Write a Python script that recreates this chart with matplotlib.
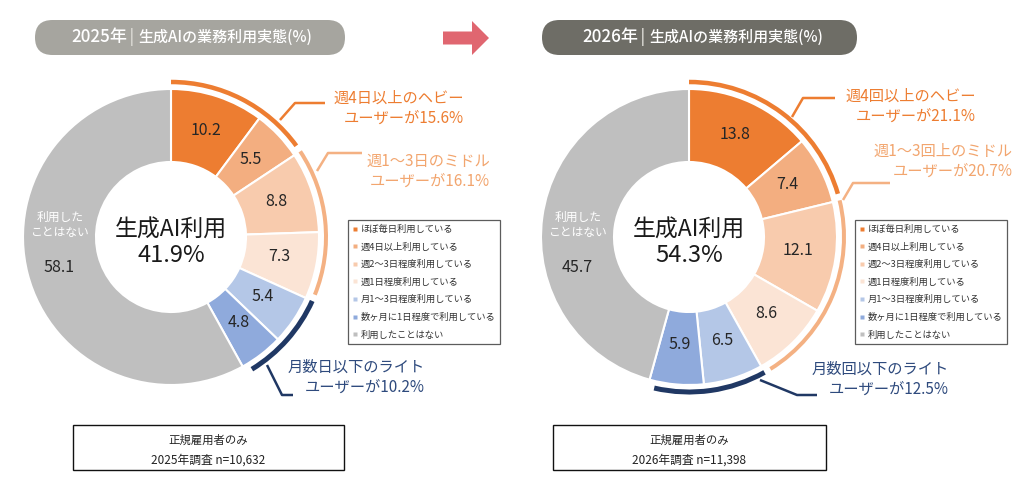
import matplotlib
matplotlib.use('Agg')
import matplotlib.pyplot as plt
from matplotlib.patches import Wedge, FancyBboxPatch, Rectangle, FancyArrow
from matplotlib.lines import Line2D
import numpy as np

plt.rcParams['font.family'] = ['Noto Sans CJK JP', 'DejaVu Sans']

# ---------------- data ----------------
categories = ['ほぼ毎日利用している', '週4日以上利用している', '週2〜3日程度利用している',
              '週1日程度利用している', '月1〜3日程度利用している',
              '数ヶ月に1日程度で利用している', '利用したことはない']
values_2025 = [10.2, 5.5, 8.8, 7.3, 5.4, 4.8, 58.1]
values_2026 = [13.8, 7.4, 12.1, 8.6, 6.5, 5.9, 45.7]
total_2025 = 41.9
total_2026 = 54.3
groups_2025 = [15.6, 16.1, 10.2]
groups_2026 = [21.1, 20.7, 12.5]
group_members = [(0, 2), (2, 4), (4, 6)]
group_text_2025 = ['週4日以上のヘビー\nユーザーが{}%', '週1〜3日のミドル\nユーザーが{}%',
                   '月数日以下のライト\nユーザーが{}%']
group_text_2026 = ['週4回以上のヘビー\nユーザーが{}%', '週1〜3回上のミドル\nユーザーが{}%',
                   '月数回以下のライト\nユーザーが{}%']
title_years = ['2025年', '2026年']
title_main = '生成AIの業務利用実態(%)'
note_line1 = '正規雇用者のみ'
note_line2 = ['2025年調査 n=10,632', '2026年調査 n=11,398']
center_label = '生成AI利用'
never_label = '利用した\nことはない'

# ---------------- style ----------------
slice_colors = ['#ED7D31', '#F3AE80', '#F8CBAD', '#FBE4D5', '#B4C7E7', '#8FAADC', '#BFBFBF']
group_colors = ['#ED7D31', '#F4B183', '#203864']
group_text_colors = ['#ED7D31', '#F2A56E', '#2E4A7D']
group_arc_lw = [4.5, 4.0, 5.0]

W, H = 1030, 490
fig = plt.figure(figsize=(W / 100, H / 100), dpi=100)
ax = fig.add_axes([0, 0, 1, 1])


def Y(y):
    return H - y


def panel(values, total, groups, gtexts, cx, cy, year, title_box, title_color,
          title_cx, leaders, text_pos, note_box, note2, legend_xy):
    R, Wd = 148, 73
    wedges, _ = ax.pie(values, center=(cx, Y(cy)), radius=R, startangle=90,
                       counterclock=False, colors=slice_colors,
                       wedgeprops=dict(width=Wd, edgecolor='white', linewidth=1.5))
    # slice labels
    for w, v in list(zip(wedges, values))[:-1]:
        th = np.deg2rad((w.theta1 + w.theta2) / 2)
        ax.text(cx + 0.745 * R * np.cos(th), Y(cy) + 0.745 * R * np.sin(th) + 2,
                f'{v:.1f}', ha='center', va='center', fontsize=11.5, color='#262626')
    # never used
    ax.text(cx - 112, Y(cy) - 30, f'{values[-1]:.1f}', ha='center', va='center',
            fontsize=11.5, color='#262626')
    ax.text(cx - 111, Y(cy) + 12, never_label, ha='center', va='center',
            fontsize=8.5, color='white', linespacing=1.15)
    # center
    ax.text(cx, Y(cy) + 7, center_label, ha='center', va='center', fontsize=16.5,
            color='#1a1a1a')
    ax.text(cx, Y(cy) - 19, f'{total:.1f}%', ha='center', va='center', fontsize=17,
            color='#1a1a1a')
    # group arcs
    r_arc = 155
    gap = 2.5
    for gi, (i0, i1) in enumerate(group_members):
        t2 = wedges[i0].theta2
        t1 = wedges[i1 - 1].theta1 + gap
        lw = group_arc_lw[gi]
        ax.add_patch(Wedge((cx, Y(cy)), r_arc + lw / 2, t1, t2, width=lw,
                           facecolor=group_colors[gi], edgecolor='none'))
        pts = leaders[gi]
        ax.add_line(Line2D([p[0] for p in pts], [Y(p[1]) for p in pts],
                           color=group_colors[gi], lw=1.8, solid_capstyle='butt'))
        tx, ty = text_pos[gi]
        ax.text(tx, Y(ty), gtexts[gi].format(groups[gi]), ha='right', va='center',
                multialignment='right', fontsize=11, color=group_text_colors[gi],
                linespacing=1.25)
    # title pill
    x0, x1, y0, y1 = title_box
    hgt = y1 - y0
    r = hgt / 2 - 0.01
    ax.add_patch(FancyBboxPatch((x0 + r, Y(y1) + r), (x1 - x0) - 2 * r, hgt - 2 * r,
                                boxstyle=f'round,pad={r},rounding_size={r}',
                                facecolor=title_color, edgecolor='none'))
    ty = Y((y0 + y1) / 2)
    ax.text(title_cx - 61, ty, year, ha='right', va='center', fontsize=12.3,
            color='white', fontweight='medium')
    ax.text(title_cx - 56, ty, '|', ha='center', va='center', fontsize=12,
            color='#DCDBD5', family='DejaVu Sans')
    ax.text(title_cx - 50, ty, title_main, ha='left', va='center', fontsize=10.8,
            color='white', fontweight='medium')
    # note box
    nx0, nx1, ny0, ny1 = note_box
    ax.add_patch(Rectangle((nx0, Y(ny1)), nx1 - nx0, ny1 - ny0, facecolor='white',
                           edgecolor='#111111', lw=1))
    ncx = (nx0 + nx1) / 2
    ax.text(ncx, Y(440), note_line1, ha='center', va='center', fontsize=8.2,
            color='#222222')
    ax.text(ncx, Y(460), note2, ha='center', va='center', fontsize=8.5,
            color='#222222')
    # legend
    handles = [Line2D([], [], marker='s', linestyle='none', markersize=2.6,
                      markerfacecolor=c, markeredgecolor='none') for c in slice_colors]
    leg = fig.legend(handles, categories, loc='upper left',
                     bbox_to_anchor=(legend_xy[0] / W, 1 - legend_xy[1] / H),
                     fontsize=6.7, frameon=True, fancybox=False, handlelength=0.5,
                     handletextpad=0.35, labelspacing=0.9, borderpad=0.5,
                     borderaxespad=0, labelcolor='#333333')
    leg.get_frame().set_edgecolor('#333333')
    leg.get_frame().set_linewidth(0.9)


panel(values_2025, total_2025, groups_2025, group_text_2025, 171, 237, title_years[0],
      (35, 345, 20, 55), '#A6A59F', 188,
      [[(280, 120), (295, 103), (325, 103)],
       [(317, 171), (328, 153), (362, 153)],
       [(267, 365), (282, 395), (293, 395)]],
      [(464, 108), (490, 171), (425, 377)],
      (73, 344, 425, 470), note_line2[0], (348, 220))

panel(values_2026, total_2026, groups_2026, group_text_2026, 689, 237, title_years[1],
      (542, 857, 20, 55), '#6E6D66', 699,
      [[(792, 117), (803, 98), (835, 98)],
       [(843, 200), (853, 183), (890, 183)],
       [(760, 380), (797, 395), (817, 395)]],
      [(976, 106), (1013, 161), (949, 379)],
      (553, 826, 425, 470), note_line2[1], (855, 220))

# arrow between panels
ax.add_patch(FancyArrow(443, Y(38), 46, 0, width=13, head_width=34, head_length=17,
                        length_includes_head=True, color='#E06670', lw=0))

ax.set_xlim(0, W)
ax.set_ylim(0, H)
ax.set_aspect('equal')
ax.axis('off')
fig.savefig('out.png', dpi=100)
